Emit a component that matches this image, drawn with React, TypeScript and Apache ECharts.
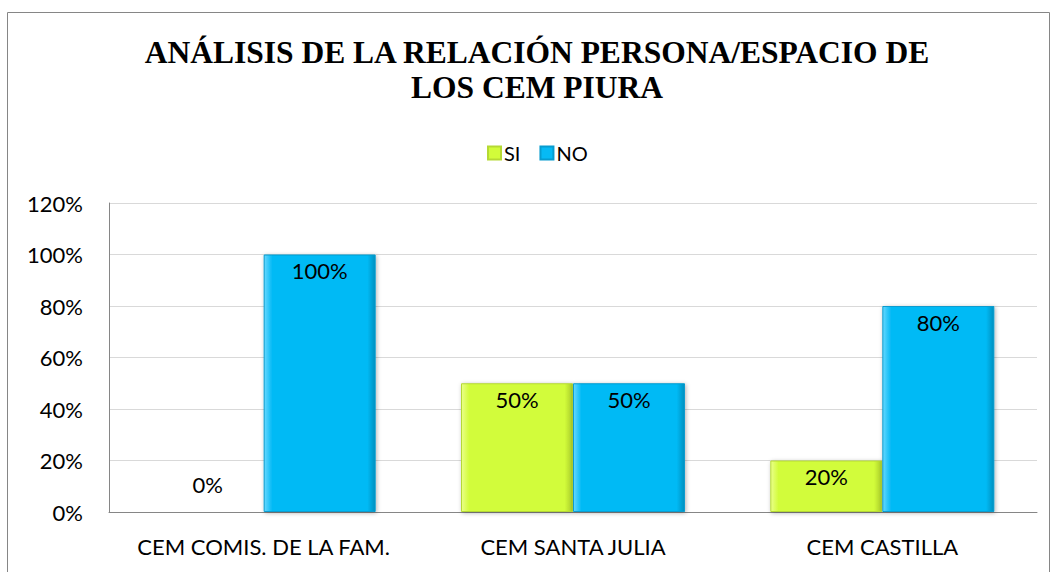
import React, { useEffect, useRef } from "react";
import * as echarts from "echarts";

const categories = ["CEM COMIS. DE LA FAM.", "CEM SANTA JULIA", "CEM CASTILLA"];
const seriesNames = ["SI", "NO"];
const siValues = [0, 50, 20];
const noValues = [100, 50, 80];
const yTicks = [0, 20, 40, 60, 80, 100, 120];

const FONT = "Lato";

function bevel(light: string, base: string, dark: string) {
  return new echarts.graphic.LinearGradient(0, 0, 1, 0, [
    { offset: 0, color: light },
    { offset: 0.07, color: base },
    { offset: 0.93, color: base },
    { offset: 1, color: dark },
  ]);
}

export default function App() {
  const ref = useRef<HTMLDivElement>(null);
  useEffect(() => {
    if (!ref.current) return;
    const chart = echarts.init(ref.current, null, { renderer: "svg" });
    const labelBase = {
      show: true,
      position: "insideTop" as const,
      distance: 5,
      formatter: (p: any) => `${p.value}%`,
      fontFamily: FONT,
      fontSize: 22,
      color: "#000",
    };
    const mk = (vals: number[]) =>
      vals.map((v) =>
        v === 0 ? { value: v, label: { position: "top", distance: 16 } } : { value: v }
      );
    chart.setOption({
      animation: false,
      backgroundColor: "#fff",
      title: {
        text: "ANÁLISIS DE LA RELACIÓN PERSONA/ESPACIO DE\nLOS CEM PIURA",
        left: 532,
        textAlign: "center",
        top: 30,
        textStyle: {
          fontFamily: "Liberation Serif",
          fontWeight: "bold",
          fontSize: 31.5,
          lineHeight: 35,
          color: "#000",
        },
      },
      legend: {
        data: seriesNames,
        top: 138,
        left: 482,
        icon: "rect",
        itemWidth: 13,
        itemHeight: 13,
        itemGap: 19,
        textStyle: { fontFamily: FONT, fontSize: 20, color: "#000", padding: [0, 0, 0, -2] },
      },
      grid: { left: 109, right: 15, top: 203, bottom: 60, containLabel: false },
      xAxis: {
        type: "category",
        data: categories,
        axisLine: { lineStyle: { color: "#868686", width: 1 } },
        axisTick: { show: false },
        axisLabel: { fontFamily: FONT, fontSize: 22, color: "#000", margin: 23, interval: 0 },
      },
      yAxis: {
        type: "value",
        min: yTicks[0],
        max: yTicks[yTicks.length - 1],
        interval: 20,
        axisLine: { show: true, lineStyle: { color: "#868686", width: 1 } },
        axisTick: { show: false },
        splitLine: { lineStyle: { color: "#D9D9D9", width: 1 } },
        axisLabel: {
          fontFamily: FONT,
          fontSize: 22,
          color: "#000",
          margin: 26,
          formatter: (v: number) => `${v}%`,
        },
      },
      series: [
        {
          name: seriesNames[0],
          type: "bar",
          data: mk(siValues),
          barWidth: 112,
          barGap: "0%",
          itemStyle: {
            color: bevel("#EAFF8A", "#D2FC3A", "#A9CC2A"),
            borderColor: "#B5D934",
            borderWidth: 1,
            shadowColor: "rgba(0,0,0,0.3)",
            shadowBlur: 4,
            shadowOffsetX: 1,
            shadowOffsetY: 1,
          },
          label: labelBase,
        },
        {
          name: seriesNames[1],
          type: "bar",
          data: mk(noValues),
          barWidth: 112,
          barGap: "0%",
          itemStyle: {
            color: bevel("#66D8FF", "#06BAF5", "#0590BF"),
            borderColor: "#079CCF",
            borderWidth: 1,
            shadowColor: "rgba(0,0,0,0.3)",
            shadowBlur: 4,
            shadowOffsetX: 1,
            shadowOffsetY: 1,
          },
          label: labelBase,
        },
      ],
      graphic: [
        {
          type: "rect",
          shape: { x: 7.5, y: 12.5, width: 1042, height: 620 },
          style: { fill: "none", stroke: "#868686", lineWidth: 1 },
          silent: true,
          z: 100,
        },
      ],
    });
    return () => chart.dispose();
  }, []);
  return (
    <div
      ref={ref}
      style={{ position: "absolute", left: 0, top: 0, width: 1052, height: 572 }}
    />
  );
}
